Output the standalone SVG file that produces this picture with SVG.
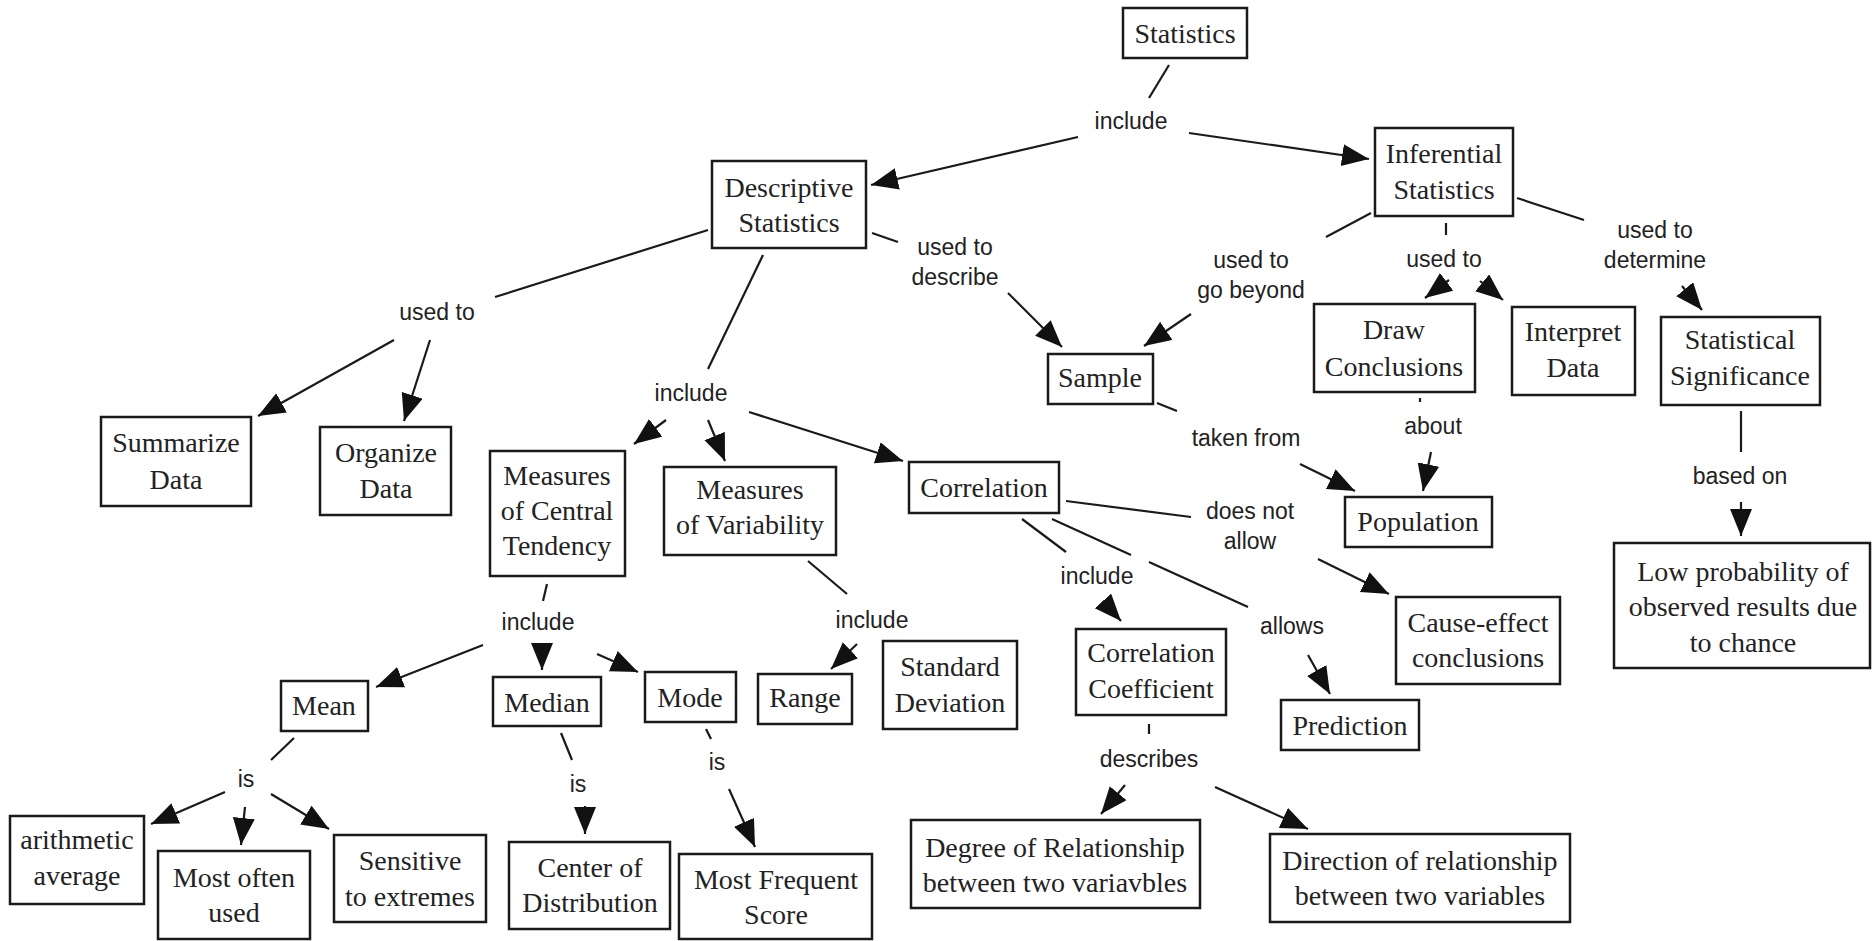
<svg xmlns="http://www.w3.org/2000/svg" width="1872" height="941" viewBox="0 0 1872 941">
<defs>
<style>
.n rect{fill:#fff;stroke:#1a1a1a;stroke-width:2.5}
.n text{font-family:"Liberation Serif","Times New Roman",serif;font-size:28px;fill:#222;text-anchor:middle}
.l{font-family:"Liberation Sans",Arial,sans-serif;font-size:23px;fill:#222;text-anchor:middle}
#connectors line{stroke:#1a1a1a;stroke-width:2.2;fill:none}
#connectors line.a{marker-end:url(#ah)}
</style>
<marker id="ah" markerUnits="userSpaceOnUse" markerWidth="28" markerHeight="24" refX="27" refY="11" orient="auto">
<path d="M0,0 L27,11 L0,22 z" fill="#111"/>
</marker>
</defs>
<rect width="1872" height="941" fill="#fff"/>
<g id="connectors">
<line x1="1169" y1="65" x2="1149" y2="98"/>
<line x1="872" y1="233" x2="898" y2="242"/>
<line x1="708" y1="230" x2="495" y2="297"/>
<line x1="763" y1="255" x2="708" y2="369"/>
<line x1="1371" y1="213" x2="1326" y2="237"/>
<line x1="1446" y1="223" x2="1446" y2="235"/>
<line x1="1517" y1="198" x2="1584" y2="220"/>
<line x1="1157" y1="403" x2="1177" y2="411"/>
<line x1="1420" y1="398" x2="1420" y2="402"/>
<line x1="1741" y1="411" x2="1741" y2="452"/>
<line x1="547" y1="584" x2="543" y2="601"/>
<line x1="808" y1="561" x2="847" y2="594"/>
<line x1="1066" y1="501" x2="1191" y2="517"/>
<line x1="1022" y1="519" x2="1066" y2="552"/>
<line x1="1052" y1="519" x2="1131" y2="555"/>
<line x1="1149" y1="562" x2="1248" y2="607"/>
<line x1="294" y1="738" x2="271" y2="760"/>
<line x1="561" y1="733" x2="572" y2="760"/>
<line x1="706" y1="729" x2="711" y2="739"/>
<line x1="1149" y1="724" x2="1149" y2="734"/>
<line class="a" x1="1078" y1="137" x2="871" y2="185"/>
<line class="a" x1="1189" y1="133" x2="1369" y2="159"/>
<line class="a" x1="1008" y1="293" x2="1062" y2="347"/>
<line class="a" x1="1191" y1="314" x2="1144" y2="346"/>
<line class="a" x1="1449" y1="280" x2="1425" y2="298"/>
<line class="a" x1="1480" y1="281" x2="1503" y2="300"/>
<line class="a" x1="1682" y1="286" x2="1702" y2="310"/>
<line class="a" x1="394" y1="340" x2="258" y2="416"/>
<line class="a" x1="430" y1="340" x2="404" y2="421"/>
<line class="a" x1="666" y1="420" x2="634" y2="444"/>
<line class="a" x1="708" y1="420" x2="725" y2="461"/>
<line class="a" x1="749" y1="412" x2="903" y2="461"/>
<line class="a" x1="1300" y1="464" x2="1355" y2="491"/>
<line class="a" x1="1431" y1="452" x2="1423" y2="491"/>
<line class="a" x1="1741" y1="502" x2="1741" y2="536"/>
<line class="a" x1="1318" y1="559" x2="1389" y2="594"/>
<line class="a" x1="1103" y1="601" x2="1121" y2="621"/>
<line class="a" x1="1308" y1="655" x2="1330" y2="694"/>
<line class="a" x1="483" y1="645" x2="376" y2="687"/>
<line class="a" x1="542" y1="643" x2="542" y2="670"/>
<line class="a" x1="597" y1="654" x2="638" y2="672"/>
<line class="a" x1="225" y1="792" x2="151" y2="824"/>
<line class="a" x1="245" y1="807" x2="241" y2="845"/>
<line class="a" x1="271" y1="794" x2="329" y2="829"/>
<line class="a" x1="585" y1="806" x2="585" y2="834"/>
<line class="a" x1="857" y1="644" x2="831" y2="669"/>
<line class="a" x1="729" y1="789" x2="755" y2="847"/>
<line class="a" x1="1125" y1="785" x2="1101" y2="814"/>
<line class="a" x1="1215" y1="787" x2="1308" y2="829"/>
</g>
<g id="labels">
<text class="l" x="1131" y="129">include</text>
<text class="l" x="955" y="255">used to</text>
<text class="l" x="955" y="285">describe</text>
<text class="l" x="437" y="320">used to</text>
<text class="l" x="691" y="401">include</text>
<text class="l" x="1251" y="268">used to</text>
<text class="l" x="1251" y="298">go beyond</text>
<text class="l" x="1444" y="267">used to</text>
<text class="l" x="1655" y="238">used to</text>
<text class="l" x="1655" y="268">determine</text>
<text class="l" x="1246" y="446">taken from</text>
<text class="l" x="1433" y="434">about</text>
<text class="l" x="1740" y="484">based on</text>
<text class="l" x="538" y="630">include</text>
<text class="l" x="872" y="628">include</text>
<text class="l" x="1250" y="519">does not</text>
<text class="l" x="1250" y="549">allow</text>
<text class="l" x="1097" y="584">include</text>
<text class="l" x="1292" y="634">allows</text>
<text class="l" x="246" y="787">is</text>
<text class="l" x="578" y="792">is</text>
<text class="l" x="717" y="770">is</text>
<text class="l" x="1149" y="767">describes</text>
</g>
<g id="statistics" class="n"><rect x="1123" y="8" width="124" height="50"/><text x="1185" y="43">Statistics</text></g>
<g id="descriptive" class="n"><rect x="712" y="161" width="154" height="87"/><text x="789" y="197">Descriptive</text><text x="789" y="232">Statistics</text></g>
<g id="inferential" class="n"><rect x="1375" y="128" width="138" height="88"/><text x="1444" y="163">Inferential</text><text x="1444" y="199">Statistics</text></g>
<g id="summarize" class="n"><rect x="101" y="417" width="150" height="89"/><text x="176" y="452">Summarize</text><text x="176" y="489">Data</text></g>
<g id="organize" class="n"><rect x="320" y="427" width="131" height="88"/><text x="386" y="462">Organize</text><text x="386" y="498">Data</text></g>
<g id="central" class="n"><rect x="490" y="451" width="135" height="125"/><text x="557" y="485">Measures</text><text x="557" y="520">of Central</text><text x="557" y="555">Tendency</text></g>
<g id="variability" class="n"><rect x="664" y="467" width="172" height="88"/><text x="750" y="499">Measures</text><text x="750" y="534">of Variability</text></g>
<g id="correlation" class="n"><rect x="909" y="462" width="150" height="51"/><text x="984" y="497">Correlation</text></g>
<g id="sample" class="n"><rect x="1048" y="354" width="105" height="50"/><text x="1100" y="387">Sample</text></g>
<g id="draw" class="n"><rect x="1314" y="304" width="161" height="88"/><text x="1394" y="339">Draw</text><text x="1394" y="376">Conclusions</text></g>
<g id="interpret" class="n"><rect x="1512" y="307" width="123" height="88"/><text x="1573" y="341">Interpret</text><text x="1573" y="377">Data</text></g>
<g id="significance" class="n"><rect x="1661" y="317" width="159" height="88"/><text x="1740" y="349">Statistical</text><text x="1740" y="385">Significance</text></g>
<g id="population" class="n"><rect x="1345" y="497" width="147" height="50"/><text x="1418" y="531">Population</text></g>
<g id="cause" class="n"><rect x="1396" y="597" width="164" height="87"/><text x="1478" y="632">Cause-effect</text><text x="1478" y="667">conclusions</text></g>
<g id="lowprob" class="n"><rect x="1614" y="543" width="256" height="125"/><text x="1743" y="581">Low probability of</text><text x="1743" y="616">observed results due</text><text x="1743" y="652">to chance</text></g>
<g id="corrcoef" class="n"><rect x="1076" y="629" width="150" height="86"/><text x="1151" y="662">Correlation</text><text x="1151" y="698">Coefficient</text></g>
<g id="prediction" class="n"><rect x="1281" y="700" width="138" height="50"/><text x="1350" y="735">Prediction</text></g>
<g id="mean" class="n"><rect x="281" y="681" width="87" height="50"/><text x="324" y="715">Mean</text></g>
<g id="median" class="n"><rect x="493" y="677" width="108" height="49"/><text x="547" y="712">Median</text></g>
<g id="mode" class="n"><rect x="645" y="672" width="91" height="50"/><text x="690" y="707">Mode</text></g>
<g id="range" class="n"><rect x="758" y="674" width="94" height="50"/><text x="805" y="707">Range</text></g>
<g id="stddev" class="n"><rect x="883" y="641" width="134" height="88"/><text x="950" y="676">Standard</text><text x="950" y="712">Deviation</text></g>
<g id="arith" class="n"><rect x="10" y="816" width="134" height="88"/><text x="77" y="849">arithmetic</text><text x="77" y="885">average</text></g>
<g id="mostoften" class="n"><rect x="158" y="851" width="152" height="88"/><text x="234" y="887">Most often</text><text x="234" y="922">used</text></g>
<g id="sensitive" class="n"><rect x="334" y="835" width="152" height="87"/><text x="410" y="870">Sensitive</text><text x="410" y="906">to extremes</text></g>
<g id="center" class="n"><rect x="509" y="842" width="161" height="87"/><text x="590" y="877">Center of</text><text x="590" y="912">Distribution</text></g>
<g id="mostfreq" class="n"><rect x="679" y="854" width="193" height="85"/><text x="776" y="889">Most Frequent</text><text x="776" y="924">Score</text></g>
<g id="degree" class="n"><rect x="911" y="820" width="289" height="88"/><text x="1055" y="857">Degree of Relationship</text><text x="1055" y="892">between two variavbles</text></g>
<g id="direction" class="n"><rect x="1270" y="834" width="300" height="88"/><text x="1420" y="870">Direction of relationship</text><text x="1420" y="905">between two variables</text></g>
</svg>
